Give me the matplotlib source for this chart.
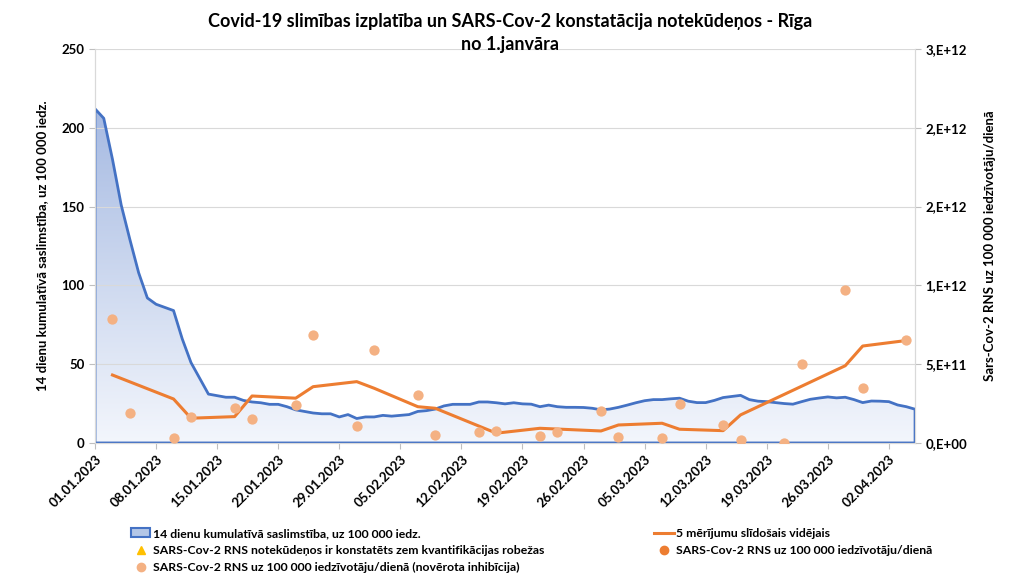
import numpy as np
import pandas as pd
import matplotlib
matplotlib.use("Agg")
import matplotlib.pyplot as plt
import matplotlib.dates as mdates
from matplotlib.colors import LinearSegmentedColormap
from matplotlib.patches import Patch
from matplotlib.lines import Line2D

plt.rcParams['font.family'] = ['Lato', 'DejaVu Sans']

# 14 dienu kumulativa saslimstiba, one value per day from 01.01.2023
start_date = "2023-01-01"
cases_14d = [212, 206, 180, 151, 129, 108, 92, 88, 86, 84,
             66, 51, 41, 31, 30, 29, 29, 27, 26, 25.5,
             24.5, 24.5, 23, 21, 20, 19, 18.5, 18.5, 16.5, 18,
             15.5, 16.5, 16.5, 17.5, 17, 17.5, 18, 20, 20.5, 21.5,
             23.5, 24.5, 24.5, 24.5, 26, 26, 25.5, 24.8, 25.5, 24.8,
             24.6, 23, 24, 23, 22.6, 22.6, 22.5, 22, 21, 21.5,
             22.6, 24, 25.5, 26.8, 27.5, 27.5, 28, 28.4, 26.5, 25.6,
             25.6, 27, 28.8, 29.5, 30.2, 27.5, 26.5, 26.2, 25.6, 25,
             24.6, 26.2, 27.7, 28.5, 29.2, 28.6, 29, 27.5, 25.6, 26.6,
             26.5, 26.2, 24.1, 23, 21.4]

# measurements with inhibition (RNS per 100 000 inhabitants per day)
inhib_dates = ["2023-01-03", "2023-01-05", "2023-01-10", "2023-01-12", "2023-01-17",
               "2023-01-19", "2023-01-24", "2023-01-26", "2023-01-31", "2023-02-02",
               "2023-02-07", "2023-02-09", "2023-02-14", "2023-02-16", "2023-02-21",
               "2023-02-23", "2023-02-28", "2023-03-02", "2023-03-07", "2023-03-09",
               "2023-03-14", "2023-03-16", "2023-03-21", "2023-03-23", "2023-03-28",
               "2023-03-30", "2023-04-04"]
inhib_values = [7.87e11, 1.92e11, 3.4e10, 1.67e11, 2.20e11,
                1.52e11, 2.41e11, 6.88e11, 1.06e11, 5.88e11,
                3.02e11, 5.1e10, 7.0e10, 7.6e10, 4.2e10,
                6.8e10, 2.01e11, 3.6e10, 3.4e10, 2.46e11,
                1.12e11, 1.7e10, 2e9, 5.00e11, 9.68e11,
                3.48e11, 6.51e11]

# 5 merijumu slidosais videjais
avg_dates = ["2023-01-03", "2023-01-10", "2023-01-12", "2023-01-17", "2023-01-19",
             "2023-01-24", "2023-01-26", "2023-01-31", "2023-02-02", "2023-02-07",
             "2023-02-09", "2023-02-16", "2023-02-21", "2023-02-28", "2023-03-02",
             "2023-03-07", "2023-03-09", "2023-03-14", "2023-03-16", "2023-03-23",
             "2023-03-28", "2023-03-30", "2023-04-04"]
avg_values = [4.31e11, 2.79e11, 1.57e11, 1.67e11, 2.98e11,
              2.84e11, 3.57e11, 3.89e11, 3.47e11, 2.30e11,
              2.20e11, 6.2e10, 9.3e10, 7.6e10, 1.14e11,
              1.25e11, 8.7e10, 7.8e10, 1.78e11, 3.60e11,
              4.90e11, 6.15e11, 6.50e11]

right_ticks = [0, 5e11, 1e12, 1.5e12, 2e12, 2.5e12]
right_labels = ["0,E+00", "5,E+11", "1,E+12", "2,E+12", "2,E+12", "3,E+12"]

blue = "#4472c4"
orange = "#ed7d31"
light_orange = "#f4b183"

days = pd.date_range(start_date, periods=len(cases_14d), freq="D")
x_days = mdates.date2num(days)
x_inhib = mdates.date2num(pd.to_datetime(inhib_dates))
x_avg = mdates.date2num(pd.to_datetime(avg_dates))

fig = plt.figure(figsize=(10.24, 5.76), dpi=100)
ax = fig.add_axes([0.0928, 0.231, 0.8008, 0.684])

# area with gradient fill (grid shows through it, as in the original)
poly = ax.fill_between(x_days, cases_14d, 0, facecolor="none", edgecolor=blue,
                       linewidth=2.0, zorder=3)
cmap = LinearSegmentedColormap.from_list("bl", ["#f3f6fc", "#a6bae2"])
grad = np.linspace(1, 0, 256).reshape(-1, 1)
im = ax.imshow(grad, extent=[x_days[0], x_days[-1], 0, max(cases_14d)],
               aspect="auto", cmap=cmap, origin="upper", zorder=0.5)
im.set_clip_path(poly.get_paths()[0], transform=ax.transData)

ax.set_xlim(x_days[0], x_days[-1])
ax.set_ylim(0, 250)
ax.set_yticks([0, 50, 100, 150, 200, 250])
ax.grid(axis="y", color="#d9d9d9", linewidth=0.8)
ax.set_axisbelow("line")

ax.set_xticks(x_days[::7])
ax.xaxis.set_major_formatter(mdates.DateFormatter("%d.%m.%Y"))
for lbl in ax.get_xticklabels():
    lbl.set_rotation(45)
    lbl.set_ha("right")
    lbl.set_rotation_mode("anchor")

ax.spines["top"].set_visible(False)
for s in ["left", "bottom", "right"]:
    ax.spines[s].set_color("#d9d9d9")
ax.tick_params(axis="both", colors="#bfbfbf", labelcolor="black", labelsize=9.5, length=4)
for lbl in ax.get_xticklabels() + ax.get_yticklabels():
    lbl.set_fontweight("bold")
ax.set_ylabel("14 dienu kumulatīvā saslimstība, uz 100 000 iedz.", fontsize=9.5,
              fontweight="bold", labelpad=10)

ax2 = ax.twinx()
ax2.plot(x_avg, avg_values, color=orange, linewidth=2.2, zorder=4)
ax2.scatter(x_inhib, inhib_values, s=55, color=light_orange, zorder=5, linewidths=0)
ax2.set_ylim(0, 2.5e12)
ax2.set_yticks(right_ticks)
ax2.set_yticklabels(right_labels)
ax2.set_xlim(x_days[0], x_days[-1])
ax2.spines["top"].set_visible(False)
for s in ["left", "bottom", "right"]:
    ax2.spines[s].set_color("#d9d9d9")
ax2.tick_params(axis="y", colors="#bfbfbf", labelcolor="black", labelsize=9.5, length=4)
for lbl in ax2.get_yticklabels():
    lbl.set_fontweight("bold")
ax2.set_ylabel("Sars-Cov-2 RNS uz 100 000 iedzīvotāju/dienā", fontsize=9.5,
               fontweight="bold", labelpad=12)

fig.suptitle("Covid-19 slimības izplatība un SARS-Cov-2 konstatācija notekūdeņos - Rīga\nno 1.janvāra",
             x=0.498, y=0.978, fontsize=13, fontweight="bold", linespacing=1.45)

h_area = Patch(facecolor="#b4c7e7", edgecolor=blue, linewidth=1.5)
h_tri = Line2D([], [], linestyle="none", marker="^", color="#ffc000", markersize=6)
h_light = Line2D([], [], linestyle="none", marker="o", color=light_orange, markersize=6)
h_line = Line2D([], [], color=orange, linewidth=2.2)
h_dot = Line2D([], [], linestyle="none", marker="o", color=orange, markersize=6)

leg_kw = dict(frameon=False, handlelength=1.6, handletextpad=0.2,
              labelspacing=0.5, borderaxespad=0, loc="upper left",
              prop={"weight": "bold", "size": 8.8})
fig.legend([h_area, h_tri, h_light],
           ["14 dienu kumulatīvā saslimstība, uz 100 000 iedz.",
            "SARS-Cov-2 RNS notekūdeņos ir konstatēts zem kvantifikācijas robežas",
            "SARS-Cov-2 RNS uz 100 000 iedzīvotāju/dienā (novērota inhibīcija)"],
           bbox_to_anchor=(0.123, 0.092), **leg_kw)
fig.legend([h_line, h_dot],
           ["5 mērījumu slīdošais vidējais",
            "SARS-Cov-2 RNS uz 100 000 iedzīvotāju/dienā"],
           bbox_to_anchor=(0.634, 0.092), **leg_kw)

fig.savefig("out.png", dpi=100)
